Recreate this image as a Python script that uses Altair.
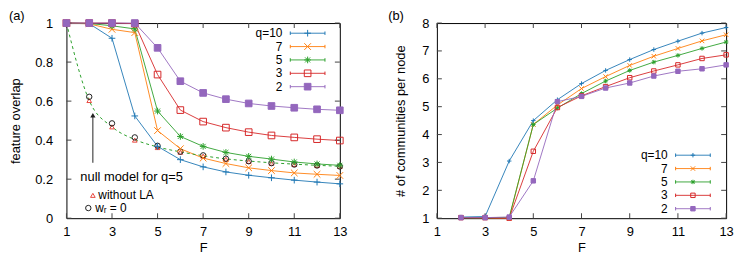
import altair as alt
import pandas as pd

FONT = "Liberation Sans"

# ---------------- data ----------------
F = list(range(1, 14))
F_B = list(range(2, 14))
Q_KEYS = ["10", "7", "5", "3", "2"]
Q_LABELS = ["q=10", "7", "5", "3", "2"]
COLORS = ["#1f77b4", "#ff7f0e", "#2ca02c", "#d62728", "#9467bd"]

overlap_q10 = [1.0, 0.997, 0.922, 0.524, 0.368, 0.300, 0.263, 0.237, 0.220, 0.207, 0.195, 0.185, 0.176]
overlap_q7 = [1.0, 0.996, 0.968, 0.951, 0.449, 0.356, 0.308, 0.280, 0.258, 0.244, 0.232, 0.225, 0.219]
overlap_q5 = [1.0, 0.998, 0.986, 0.970, 0.549, 0.419, 0.368, 0.337, 0.317, 0.303, 0.288, 0.278, 0.271]
overlap_q3 = [1.0, 1.0, 1.0, 0.997, 0.736, 0.554, 0.495, 0.464, 0.441, 0.424, 0.414, 0.405, 0.398]
overlap_q2 = [1.0, 1.0, 1.0, 1.0, 0.873, 0.702, 0.642, 0.610, 0.588, 0.575, 0.566, 0.558, 0.553]

null_model = [1.0, 0.603, 0.468, 0.403, 0.365, 0.340, 0.320, 0.304, 0.293, 0.284, 0.277, 0.271, 0.266]
without_la = [1.0, 0.603, 0.468, 0.400, 0.362, 0.338, 0.318, 0.302, 0.291, 0.282, 0.275, 0.270, 0.265]
wr_zero = [1.0, 0.622, 0.486, 0.414, 0.371, 0.341, 0.322, 0.305, 0.292, 0.282, 0.275, 0.270, 0.265]

comm_q10 = [1.04, 1.06, 3.05, 4.50, 5.25, 5.83, 6.30, 6.69, 7.05, 7.35, 7.64, 7.84]
comm_q7 = [1.02, 1.01, 1.00, 4.36, 5.06, 5.65, 6.08, 6.48, 6.81, 7.09, 7.36, 7.58]
comm_q5 = [1.02, 1.02, 1.03, 4.36, 4.95, 5.47, 5.92, 6.30, 6.60, 6.84, 7.09, 7.32]
comm_q3 = [1.02, 1.02, 1.00, 3.40, 4.97, 5.39, 5.72, 6.04, 6.28, 6.50, 6.73, 6.86]
comm_q2 = [1.02, 1.02, 1.04, 2.34, 5.18, 5.37, 5.67, 5.85, 6.10, 6.27, 6.36, 6.50]

X_TICKS = [1, 3, 5, 7, 9, 11, 13]
Y_TICKS_A = [0, 0.2, 0.4, 0.6, 0.8, 1.0]
Y_TICKS_B = [1, 2, 3, 4, 5, 6, 7, 8]

ANNOT_MAIN = ["null model for q=5"]
ANNOT_KEYS = ["without LA", "w\u1d63 = 0"]

# ---------------- tables ----------------
def long_table(xs, series):
    rows = []
    for key, vals in zip(Q_KEYS, series):
        for x, v in zip(xs, vals):
            rows.append({"F": x, "v": v, "q": key})
    return pd.DataFrame(rows)

df_a = long_table(F, [overlap_q10, overlap_q7, overlap_q5, overlap_q3, overlap_q2])
df_b = long_table(F_B, [comm_q10, comm_q7, comm_q5, comm_q3, comm_q2])
df_null = pd.DataFrame({"F": F, "v": null_model})
df_tri = pd.DataFrame({"F": F, "v": without_la})
df_circ = pd.DataFrame({"F": F, "v": wr_zero})
legend_df = pd.DataFrame({"q": Q_KEYS, "label": Q_LABELS, "row": list(range(5))})

PLUS = "M-1,0H1M0,-1V1"
CROSS = "M-1,-1L1,1M-1,1L1,-1"
STAR = "M-1,0H1M0,-1V1M-0.75,-0.75L0.75,0.75M-0.75,0.75L0.75,-0.75"
SQUARE = "M-1,-1H1V1H-1Z"

stroke_scale = alt.Scale(domain=Q_KEYS, range=COLORS)
fill_scale = alt.Scale(domain=Q_KEYS, range=["transparent"] * 4 + [COLORS[4]])
shape_scale = alt.Scale(domain=Q_KEYS, range=[PLUS, CROSS, STAR, SQUARE, SQUARE])

TICK_COLOR = "#444444"
TICK_LEN = 5


def panel(df, ydomain, yticks, ytitle, W, H, msize, label_pad, title_pad,
          leg_y0, leg_step, leg_text_x, ptitle, title_dx, extra=None):
    xs = alt.Scale(domain=[1, 13], nice=False)
    ys = alt.Scale(domain=ydomain, nice=False, zero=False)
    x_axis = alt.Axis(
        values=X_TICKS, title="F", ticks=False, domain=False, grid=False,
        labelPadding=7, titlePadding=4, labelFlush=False, labelOverlap=False)
    y_axis = alt.Axis(
        values=yticks, title=ytitle, ticks=False, domain=False, grid=False,
        labelPadding=label_pad, titlePadding=title_pad, format="~g",
        labelOverlap=False, labelFlush=False)
    x_n = alt.X("F:Q", scale=xs, axis=x_axis)
    y_n = alt.Y("v:Q", scale=ys, axis=y_axis)

    layers = []
    stroke = alt.Stroke("q:N", scale=stroke_scale, legend=None)
    fill = alt.Fill("q:N", scale=fill_scale, legend=None)
    shape = alt.Shape("q:N", scale=shape_scale, legend=None)

    layers.append(alt.Chart(df).mark_line(strokeWidth=1, opacity=0.9).encode(
        x=x_n, y=y_n, stroke=stroke))

    # inward ticks
    xt = pd.DataFrame({"F": X_TICKS})
    yt = pd.DataFrame({"v": yticks})
    layers.append(alt.Chart(xt).mark_rule(color=TICK_COLOR, strokeWidth=1).encode(
        x=x_n, y=alt.value(H), y2=alt.value(H - TICK_LEN)))
    layers.append(alt.Chart(xt).mark_rule(color=TICK_COLOR, strokeWidth=1).encode(
        x=x_n, y=alt.value(0), y2=alt.value(TICK_LEN)))
    layers.append(alt.Chart(yt).mark_rule(color=TICK_COLOR, strokeWidth=1).encode(
        y=y_n, x=alt.value(0), x2=alt.value(TICK_LEN)))
    layers.append(alt.Chart(yt).mark_rule(color=TICK_COLOR, strokeWidth=1).encode(
        y=y_n, x=alt.value(W), x2=alt.value(W - TICK_LEN)))

    if extra:
        layers.extend(extra(x_n, y_n))

    layers.append(alt.Chart(df).mark_point(strokeWidth=1, opacity=1, size=msize).encode(
        x=x_n, y=y_n, stroke=stroke, fill=fill, shape=shape))

    # legend
    leg = alt.Chart(legend_df).transform_calculate(
        ly=f"{leg_y0} - datum.row * {leg_step}")
    ly = alt.Y("ly:Q", scale=ys, axis=y_axis)
    layers.append(leg.mark_text(font=FONT, fontSize=12, align="right", baseline="middle",
                                color="black").encode(
        x=alt.value(leg_text_x), y=ly, text="label:N"))
    layers.append(leg.mark_rule(strokeWidth=1, opacity=0.9).encode(
        x=alt.value(leg_text_x + 8), x2=alt.value(leg_text_x + 43), y=ly, stroke=stroke))
    for cx in (leg_text_x + 8, leg_text_x + 43):
        layers.append(leg.mark_point(strokeWidth=1, opacity=1, size=12,
                                     shape="M0,-1V1").encode(
            x=alt.value(cx), y=ly, stroke=stroke))
    layers.append(leg.mark_point(strokeWidth=1, opacity=1, size=msize).encode(
        x=alt.value(leg_text_x + 25.5), y=ly, stroke=stroke, fill=fill, shape=shape))

    return alt.layer(*layers).properties(
        width=W, height=H,
        title=alt.TitleParams(ptitle, anchor="start", frame="bounds", offset=-6, dx=title_dx))


def extras_a(x_n, y_n):
    out = []
    out.append(alt.Chart(df_null).mark_line(color=COLORS[2], strokeWidth=1,
                                           strokeDash=[3, 3], interpolate="monotone").encode(
        x=x_n, y=y_n))
    out.append(alt.Chart(df_tri).mark_point(shape="triangle-up", size=22, color="#e8453c",
                                           strokeWidth=1, opacity=1).encode(x=x_n, y=y_n))
    out.append(alt.Chart(df_circ).mark_point(shape="circle", size=30, color="#222222",
                                            strokeWidth=1, opacity=1).encode(x=x_n, y=y_n))
    # arrow
    arrow_df = pd.DataFrame({"F": [2.16], "v": [0.284], "v2": [0.53]})
    out.append(alt.Chart(arrow_df).mark_rule(color="#222222", strokeWidth=1).encode(
        x=x_n, y=y_n, y2="v2:Q"))
    head_df = pd.DataFrame({"F": [2.16], "v": [0.527]})
    out.append(alt.Chart(head_df).mark_point(shape="triangle-up", filled=True, size=28,
                                            color="#222222", opacity=1).encode(x=x_n, y=y_n))
    # annotation texts
    main_df = pd.DataFrame({"F": [1.61], "v": [0.213], "t": ANNOT_MAIN})
    out.append(alt.Chart(main_df).mark_text(font=FONT, fontSize=13, align="left",
                                           baseline="middle", color="black").encode(
        x=x_n, y=y_n, text="t:N"))
    keys_df = pd.DataFrame({"F": [2.40, 2.26], "v": [0.117, 0.052], "t": ANNOT_KEYS})
    out.append(alt.Chart(keys_df).mark_text(font=FONT, fontSize=12, align="left",
                                           baseline="middle", color="black").encode(
        x=x_n, y=y_n, text="t:N"))
    key_tri = pd.DataFrame({"F": [2.16], "v": [0.117]})
    key_circ = pd.DataFrame({"F": [1.96], "v": [0.052]})
    out.append(alt.Chart(key_tri).mark_point(shape="triangle-up", size=22, color="#e8453c",
                                            strokeWidth=1, opacity=1).encode(x=x_n, y=y_n))
    out.append(alt.Chart(key_circ).mark_point(shape="circle", size=30, color="#222222",
                                             strokeWidth=1, opacity=1).encode(x=x_n, y=y_n))
    return out


left = panel(df_a, [0, 1], Y_TICKS_A, "feature overlap", 276, 197, 45, 14, 12,
             0.948, 0.0685, 218, "(a)", -1, extras_a)
right = panel(df_b, [1, 8], Y_TICKS_B, "# of communities per node", 292, 197, 20, 8, 14,
              3.26, 0.48, 233, "(b)", -7)

chart = alt.hconcat(left, right, spacing=40).properties(
    padding={"left": 0, "top": 0, "right": 5, "bottom": 2}
).configure_view(stroke="black", strokeWidth=1).configure_axis(
    labelFont=FONT, titleFont=FONT, labelFontSize=13, titleFontSize=13,
    labelColor="black", titleColor="black", titleFontWeight="normal"
).configure_title(font=FONT, fontSize=13, fontWeight="normal", color="black")

chart.save("out.html", embed_options={"renderer": "svg", "actions": False})
